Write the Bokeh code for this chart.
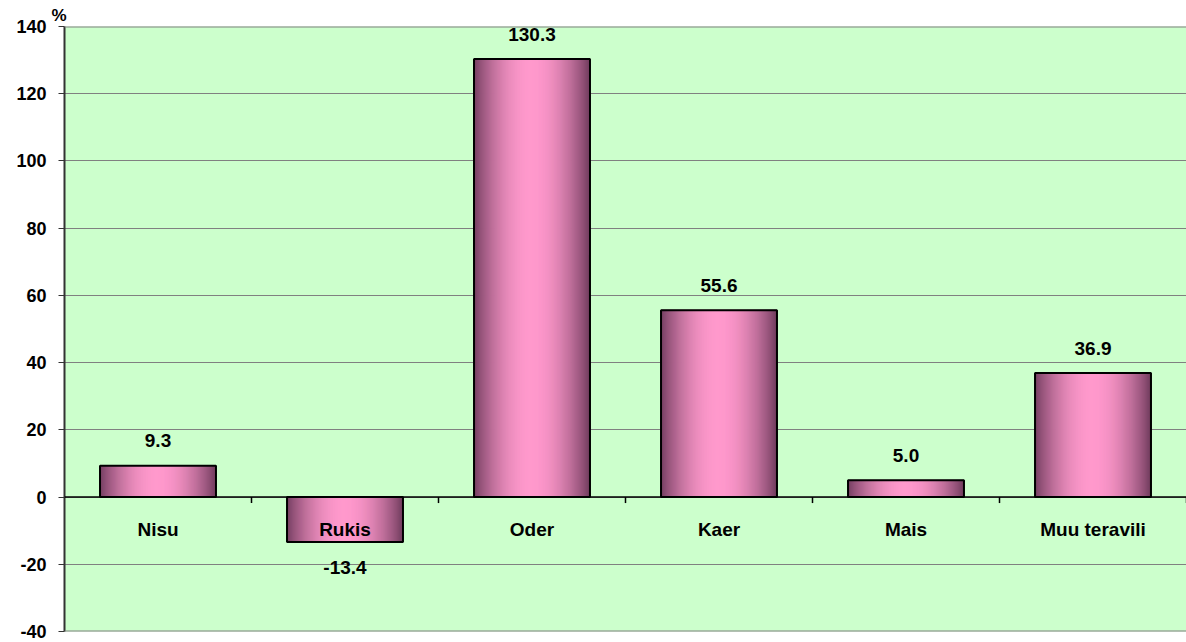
import numpy as np
from bokeh.plotting import figure
from bokeh.models import Range1d, FixedTicker, Span
from bokeh.core.properties import value
from bokeh.embed import file_html
from bokeh.resources import INLINE

# ---- data ----
categories = ["Nisu", "Rukis", "Oder", "Kaer", "Mais", "Muu teravili"]
values = [9.3, -13.4, 130.3, 55.6, 5.0, 36.9]
value_labels = ["9.3", "-13.4", "130.3", "55.6", "5.0", "36.9"]
y_ticks = [-40, -20, 0, 20, 40, 60, 80, 100, 120, 140]
y_unit = "%"

FONT = "Liberation Sans"
W, H = 1186, 642

p = figure(width=W, height=H, output_backend="svg", toolbar_location=None,
           x_range=Range1d(0, len(categories)),
           y_range=Range1d(y_ticks[0], y_ticks[-1]),
           x_axis_location=None, y_axis_location="left",
           min_border_left=64, min_border_right=0,
           min_border_top=26, min_border_bottom=11)

p.background_fill_color = "#CCFFCC"
p.border_fill_color = "white"
p.outline_line_color = None

# unit label as title
p.title.text = y_unit
p.title.align = "left"
p.title.offset = -13
p.title.standoff = 4
p.title.text_font = FONT
p.title.text_font_style = "bold"
p.title.text_font_size = "17px"
p.title.text_color = "black"

# grid
p.xgrid.grid_line_color = None
p.ygrid.ticker = FixedTicker(ticks=y_ticks)
p.ygrid.grid_line_color = "#808080"
p.ygrid.grid_line_width = 1

# y axis
yax = p.yaxis[0]
yax.ticker = FixedTicker(ticks=y_ticks, minor_ticks=[])
yax.major_label_overrides = {t: str(t) for t in y_ticks}
yax.axis_line_color = "#333333"
yax.axis_line_width = 2
yax.major_tick_line_color = "#333333"
yax.major_tick_out = 6
yax.major_tick_in = 0
yax.minor_tick_line_color = None
yax.major_label_standoff = 12
yax.major_label_text_font = FONT
yax.major_label_text_font_style = "bold"
yax.major_label_text_font_size = "18px"
yax.major_label_text_color = "black"

# frame top / bottom borders
p.add_layout(Span(location=y_ticks[-1], dimension="width", line_color="#808080", line_width=2))
p.add_layout(Span(location=y_ticks[0], dimension="width", line_color="#808080", line_width=2))

# bars with horizontal gradient built from thin strips
n = len(categories)
centers = [i + 0.5 for i in range(n)]
bar_w = 0.62
N = 116
dark = np.array([112, 60, 94], dtype=float)
pink = np.array([255, 153, 204], dtype=float)
xs, tops, cols = [], [], []
for cx, v in zip(centers, values):
    for k in range(N):
        t = (k + 0.5) / N
        f = np.sin(np.pi * t) ** 0.85
        c = dark + f * (pink - dark)
        xs.append(cx - bar_w / 2 + t * bar_w)
        tops.append(v)
        cols.append("#%02x%02x%02x" % tuple(int(round(u)) for u in c))
p.vbar(x=xs, width=bar_w / N, top=tops, bottom=0,
       fill_color=cols, line_color=cols, line_width=1)
p.vbar(x=centers, width=bar_w, top=values, bottom=0,
       fill_color=None, line_color="black", line_width=2)

# category axis at zero
p.add_layout(Span(location=0, dimension="width", line_color="black", line_width=1.5))
boundaries = [i for i in range(1, n + 1)]
p.ray(x=boundaries, y=[0] * len(boundaries), length=6, length_units="screen",
      angle=-np.pi / 2, line_color="black", line_width=1.5)

p.text(x=centers, y=[0] * n, text=categories, y_offset=32,
       text_align="center", text_baseline="middle",
       text_font=value(FONT), text_font_style="bold",
       text_font_size="19px", text_color="black")

# value labels
offs = [-25 if v >= 0 else 25 for v in values]
p.text(x=centers, y=values, text=value_labels, y_offset=offs,
       text_align="center", text_baseline="middle",
       text_font=value(FONT), text_font_style="bold",
       text_font_size="19px", text_color="black")

open("out.html", "w").write(file_html(p, INLINE))
